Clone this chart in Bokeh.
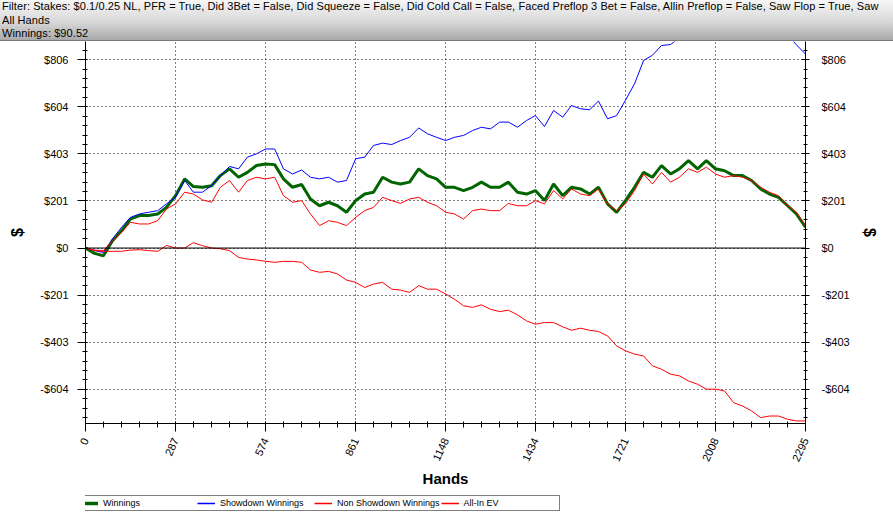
import math
from bokeh.plotting import figure
from bokeh.models import Range1d, LinearAxis, FixedTicker, Span, Legend, LegendItem, Div
from bokeh.layouts import column
from bokeh.embed import file_html
from bokeh.resources import INLINE

# ---------------- data ----------------
hands = [0, 29, 57, 86, 115, 143, 172, 201, 230, 258, 287, 316, 344, 373, 402, 430, 459, 488, 516, 545,
         574, 603, 631, 660, 689, 717, 746, 775, 803, 832, 861, 890, 918, 947, 976, 1004, 1033, 1062, 1090, 1119,
         1148, 1176, 1205, 1234, 1262, 1291, 1320, 1348, 1377, 1406, 1434, 1463, 1492, 1521, 1549, 1578, 1607, 1635, 1664, 1693,
         1721, 1750, 1779, 1807, 1836, 1865, 1893, 1922, 1951, 1979, 2008, 2037, 2066, 2094, 2123, 2152, 2180, 2209, 2238, 2266,
         2295]

winnings = [0, -23, -33, 31, 74, 124, 139, 139, 146, 174, 224, 296, 263, 260, 267, 310, 339, 303, 324, 353,
            360, 357, 296, 260, 272, 210, 181, 196, 181, 153, 203, 231, 239, 303, 282, 274, 282, 339, 310, 296,
            260, 260, 246, 260, 282, 260, 260, 282, 239, 231, 246, 203, 274, 224, 260, 253, 231, 260, 189, 153,
            203, 260, 324, 303, 353, 317, 339, 374, 339, 374, 339, 331, 310, 310, 289, 253, 231, 217, 181, 146,
            89]

showdown = [3, -11, -19, 39, 89, 131, 146, 153, 160, 189, 217, 289, 239, 239, 267, 310, 349, 339, 389, 403,
            424, 424, 339, 317, 334, 303, 296, 303, 282, 289, 382, 389, 439, 449, 443, 460, 474, 514, 489, 474,
            460, 474, 482, 503, 517, 510, 539, 539, 517, 546, 567, 520, 589, 560, 610, 596, 592, 629, 553, 567,
            632, 703, 803, 825, 867, 871, 900, 943, 922, 978, 943, 943, 972, 986, 986, 979, 950, 936, 914, 870,
            830]

non_showdown = [0, -11, -14, -14, -14, -9, -7, -11, -14, 11, 0, 0, 23, 10, 0, -3, -11, -40, -47, -51,
                -57, -61, -57, -57, -61, -94, -104, -100, -111, -137, -147, -169, -154, -147, -176, -180, -190, -161, -176, -176,
                -197, -219, -247, -254, -243, -262, -272, -266, -286, -312, -326, -319, -319, -337, -352, -343, -352, -357, -376, -419,
                -440, -454, -462, -504, -519, -540, -547, -569, -583, -604, -604, -612, -662, -676, -697, -726, -719, -719, -733, -740,
                -740]

allin_ev = [0, -9, -11, 31, 67, 110, 103, 103, 117, 167, 189, 239, 231, 206, 196, 260, 289, 239, 289, 303,
            296, 303, 224, 196, 203, 146, 96, 117, 110, 96, 131, 160, 174, 217, 203, 191, 210, 217, 196, 181,
            153, 146, 124, 160, 167, 160, 160, 191, 181, 181, 203, 189, 246, 210, 253, 231, 224, 253, 189, 160,
            189, 246, 317, 274, 324, 282, 303, 339, 324, 346, 317, 303, 310, 303, 289, 260, 239, 224, 181, 153,
            96]

x_ticks = [0, 287, 574, 861, 1148, 1434, 1721, 2008, 2295]
y_ticks = [-604.5, -403, -201.5, 0, 201.5, 403, 604.5, 806]
y_tick_labels = ["-$604", "-$403", "-$201", "$0", "$201", "$403", "$604", "$806"]

header_lines = [
    "Filter: Stakes: $0.1/0.25 NL, PFR = True, Did 3Bet = False, Did Squeeze = False, Did Cold Call = False, "
    "Faced Preflop 3 Bet = False, Allin Preflop = False, Saw Flop = True, Saw",
    "All Hands",
    "Winnings: $90.52",
]
legend_labels = ["Winnings", "Showdown Winnings", "Non Showdown Winnings", "All-In EV"]
series_colors = ["#006400", "#0000ff", "#ff0000", "#ff0000"]
series_widths = [3, 1, 1, 1]

x_lo, x_hi = 0, 2295
y_lo, y_hi = -751, 884

# ---------------- ticks ----------------
x_step = (x_ticks[-1] - x_ticks[0]) / (len(x_ticks) - 1)
x_minor = [x_ticks[0] + x_step * i / 5 for i in range(0, 5 * (len(x_ticks) - 1) + 1)]
y_step = y_ticks[-1] - y_ticks[-2]
y_minor = []
v = y_ticks[0] - y_step
while v <= y_hi:
    if v >= y_lo:
        y_minor.append(v)
    v += y_step / 5

y_overrides = {t: lab for t, lab in zip(y_ticks, y_tick_labels)}

FONT = "Liberation Sans"

# ---------------- header ----------------
header = Div(
    text="<br>".join(header_lines), width=893, height=41, disable_math=True, margin=0,
    styles={
        "font-family": FONT, "font-size": "11px", "line-height": "13.5px", "color": "black",
        "letter-spacing": "0.08px",
        "background": "linear-gradient(to bottom, #f6f6f6 0%, #d8d8d8 55%, #a9a9a9 100%)",
        "border-bottom": "1px solid #7a7a7a", "white-space": "nowrap", "overflow": "hidden",
        "padding": "0px 0 0 2px", "box-sizing": "border-box",
    },
)

# ---------------- main figure ----------------
p = figure(
    width=893, height=449, output_backend="svg", toolbar_location=None,
    x_range=Range1d(x_lo, x_hi), y_range=Range1d(y_lo, y_hi),
    min_border_left=85, min_border_right=88, min_border_top=0, min_border_bottom=67,
)
p.outline_line_color = None
p.background_fill_color = "white"
p.border_fill_color = "white"

xt = FixedTicker(ticks=x_ticks, minor_ticks=x_minor)
yt = FixedTicker(ticks=y_ticks, minor_ticks=y_minor)

p.xaxis.ticker = xt
p.yaxis.ticker = yt
p.xgrid.ticker = xt
p.ygrid.ticker = yt
for g in (p.xgrid, p.ygrid):
    g.grid_line_color = "black"
    g.grid_line_dash = "1 3"
    g.grid_line_width = 1

raxis = LinearAxis(ticker=yt)
p.add_layout(raxis, "right")

for ax in (p.xaxis[0], p.yaxis[0], raxis):
    ax.axis_line_color = "black"
    ax.major_tick_line_color = "black"
    ax.minor_tick_line_color = "black"
    ax.major_label_text_font = FONT
    ax.major_label_text_font_size = "11px"
    ax.major_label_text_color = "black"
    ax.axis_label_text_font = FONT
    ax.axis_label_text_font_style = "bold"
    ax.axis_label_text_color = "black"

lax = p.yaxis[0]
lax.major_label_overrides = y_overrides
lax.axis_label = "$"
lax.axis_label_text_font_size = "16px"
lax.major_tick_out, lax.major_tick_in = 8, 2
lax.minor_tick_out, lax.minor_tick_in = 3, 2
lax.major_label_standoff = 9
lax.axis_label_standoff = 11

raxis.major_label_overrides = y_overrides
raxis.axis_label = "$"
raxis.axis_label_text_font_size = "16px"
raxis.major_tick_out, raxis.major_tick_in = 4, 4
raxis.minor_tick_out, raxis.minor_tick_in = 2, 2
raxis.major_label_standoff = 12
raxis.axis_label_standoff = 8

bax = p.xaxis[0]
bax.axis_label = "Hands"
bax.axis_label_text_font_size = "15px"
bax.major_tick_out, bax.major_tick_in = 8, 2
bax.minor_tick_out, bax.minor_tick_in = 4, 2
bax.major_label_orientation = math.radians(65)
bax.major_label_standoff = 7
bax.axis_label_standoff = 3

zero = Span(location=0, dimension="width", line_color="black", line_width=1)
p.add_layout(zero)

series = [winnings, showdown, non_showdown, allin_ev]
for ys, c, w in zip(series, series_colors, series_widths):
    p.line(hands, ys, line_color=c, line_width=w)

# ---------------- legend strip (own small figure; its lines lie outside its view) ----------------
lg = figure(
    width=893, height=30, output_backend="svg", toolbar_location=None,
    x_range=Range1d(x_lo, x_hi), y_range=Range1d(5000, 5001),
    min_border_left=0, min_border_right=0, min_border_top=0, min_border_bottom=0,
    x_axis_location=None, y_axis_location=None,
)
lg.outline_line_color = None
lg.background_fill_color = "white"
lg.border_fill_color = "white"
lg.xgrid.visible = False
lg.ygrid.visible = False
items = []
for lab, ys, c, w in zip(legend_labels, series, series_colors, series_widths):
    r = lg.line(hands, ys, line_color=c, line_width=w + 0.5)
    items.append(LegendItem(label=lab, renderers=[r]))

legend = Legend(
    items=items, orientation="horizontal", location=(-8, 9), margin=0, padding=2, spacing=1,
    glyph_width=18, glyph_height=10, label_width=93, label_height=10, label_standoff=5,
    label_text_font=FONT, label_text_font_size="9px",
    label_text_color="black",
    border_line_color="black", border_line_width=1,
    background_fill_color="white", background_fill_alpha=1,
)
lg.add_layout(legend)

layout = column(header, p, lg, spacing=0, margin=0)

open("out.html", "w").write(file_html(layout, INLINE))
